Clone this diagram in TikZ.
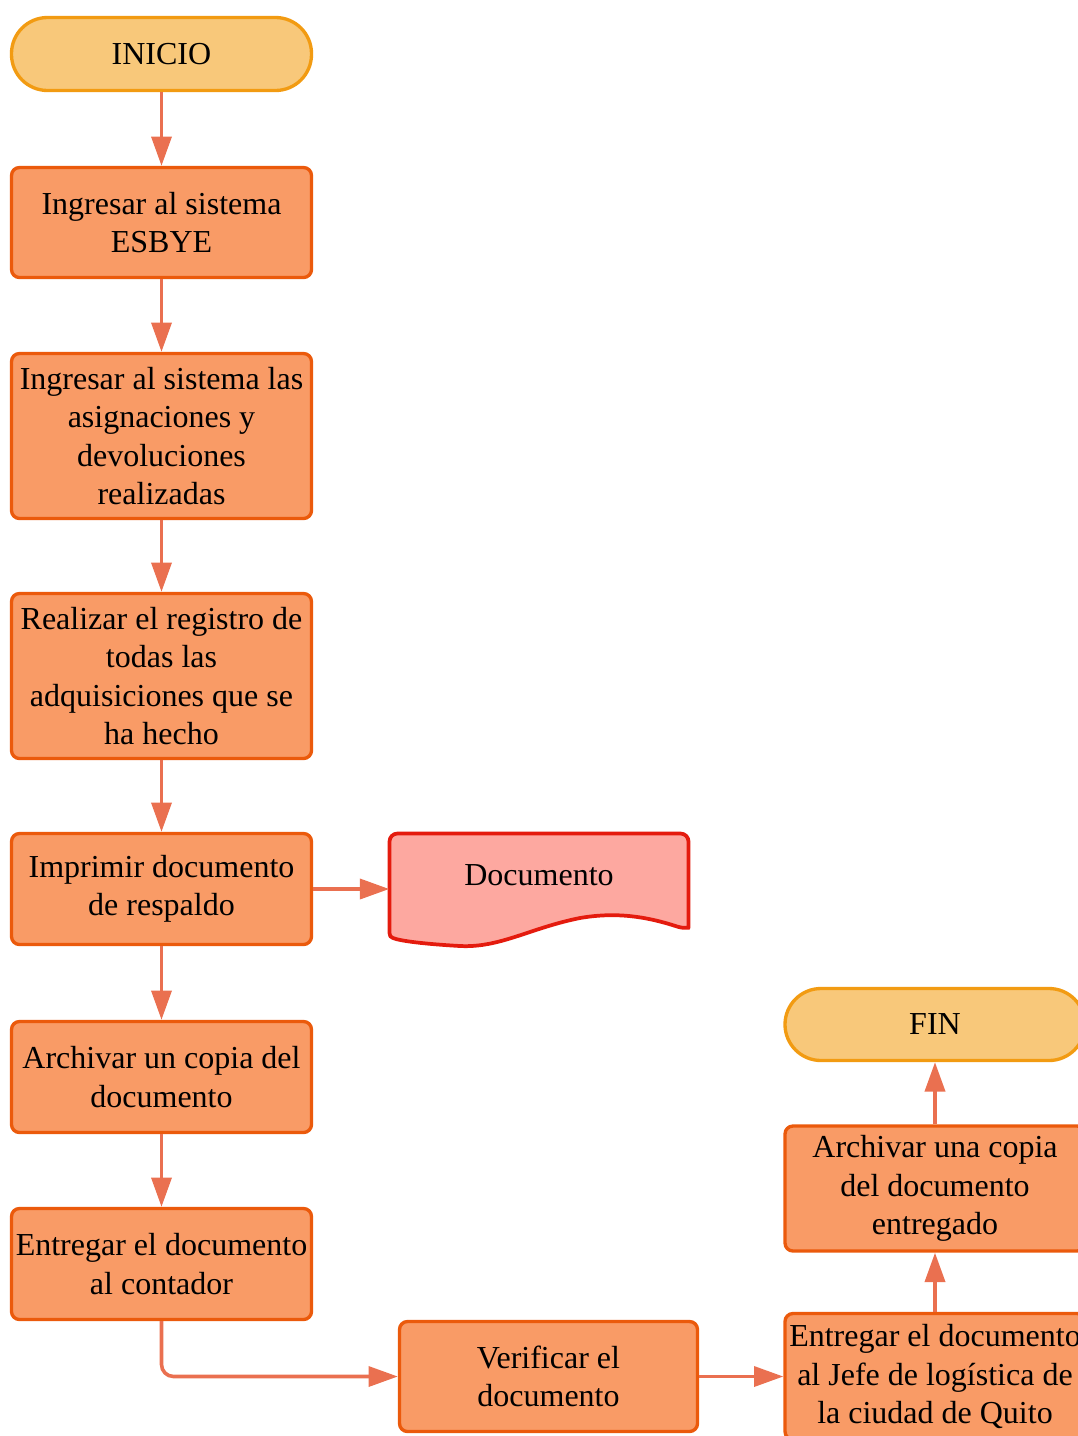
\documentclass[tikz,border=0pt]{standalone}
\usepackage{fontspec}
\setmainfont{Liberation Serif}
\usetikzlibrary{arrows.meta}
\definecolor{termfill}{HTML}{F8C87A}
\definecolor{termline}{HTML}{F29B12}
\definecolor{boxfill}{HTML}{F99B66}
\definecolor{boxline}{HTML}{EB5A0C}
\definecolor{docfill}{HTML}{FDA8A0}
\definecolor{docline}{HTML}{E41B0E}
\definecolor{arrowcol}{HTML}{EA7050}
\begin{document}
\begin{tikzpicture}[x=0.75pt,y=-0.75pt,
  every node/.style={font=\fontsize{24}{28.9}\selectfont, align=center, inner sep=0pt},
  procbox/.style={draw=boxline, fill=boxfill, line width=2.5pt, rounded corners=6pt,
    minimum width=225pt},
  term/.style={draw=termline, fill=termfill, line width=2.5pt, rounded corners=27pt,
    minimum width=225pt, minimum height=54.75pt},
  arr/.style={draw=arrowcol, line width=2.7pt,
    -{Triangle[length=22pt,width=15pt]}},
]
\useasboundingbox (0,0) rectangle (1078,1436);

% left column
\node[term] (inicio) at (161.5,54) {INICIO};
\node[procbox, minimum height=82.5pt] (b1) at (161.5,222.5) {Ingresar al sistema\\ESBYE};
\node[procbox, minimum height=123.75pt] (b2) at (161.5,436) {Ingresar al sistema las\\asignaciones y\\devoluciones\\realizadas};
\node[procbox, minimum height=123.75pt] (b3) at (161.5,676) {Realizar el registro de\\todas las\\adquisiciones que se\\ha hecho};
\node[procbox, minimum height=83.25pt] (b4) at (161.5,889) {Imprimir documento\\de respaldo};
\node[procbox, minimum height=83.25pt] (b5) at (161.5,1077) {Archivar un copia del\\documento};
\node[procbox, minimum height=83.25pt] (b6) at (161.5,1264) {Entregar el documento\\al contador};

% document symbol
\node[minimum width=224.25pt, minimum height=84pt] (doc) at (539,889) {};
\draw[draw=docline, fill=docfill, line width=2.8pt, line join=round]
  (389.5,933) [rounded corners=6pt] -- (389.5,833.5) -- (688.5,833.5) -- (688.5,920)
  [sharp corners] .. controls (688.5,927) and (685,929) .. (677,926.5)
  .. controls (645,916) and (615,912) .. (580,918)
  .. controls (530,928) and (500,948) .. (460,946)
  .. controls (425,944) and (400,941) .. (393,938)
  .. controls (390.5,937) and (389.5,936) .. (389.5,933) -- cycle;
\node (doctext) at (539,875) {Documento};

% bottom row and right column
\node[procbox, minimum width=223.5pt, minimum height=82.5pt] (verif) at (548.5,1376.5) {Verificar el\\documento};
\node[procbox, minimum height=94.5pt] (jefe) at (935,1376.5) {Entregar el documento\\al Jefe de log\'istica de\\la ciudad de Quito};
\node[procbox, minimum height=93.75pt] (arch) at (935,1188.5) {Archivar una copia\\del documento\\entregado};
\node[term, minimum height=54pt] (fin) at (935,1024.5) {FIN};

% connectors
\draw[arr] (inicio) -- (b1);
\draw[arr] (b1) -- (b2);
\draw[arr] (b2) -- (b3);
\draw[arr] (b3) -- (b4);
\draw[arr] (b4) -- (b5);
\draw[arr] (b5) -- (b6);
\draw[arr] (b4) -- (doc);
\draw[arr, rounded corners=9pt] (b6.south) |- (verif.west);
\draw[arr] (verif) -- (jefe);
\draw[arr] (jefe) -- (arch);
\draw[arr] (arch) -- (fin);
\end{tikzpicture}
\end{document}
